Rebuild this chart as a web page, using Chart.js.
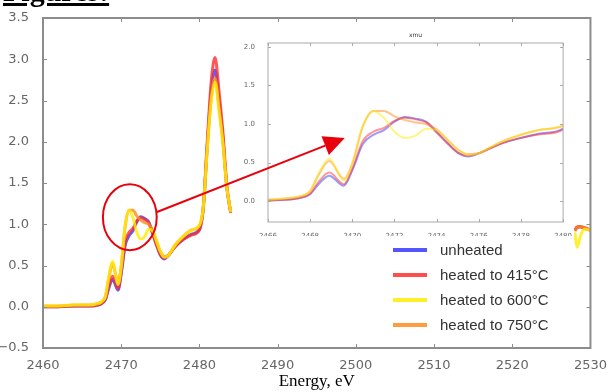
<!DOCTYPE html>
<html>
<head>
<meta charset="utf-8">
<script src="https://cdn.jsdelivr.net/npm/chart.js@4.4.1/dist/chart.umd.min.js"></script>
<style>
  body { margin: 0; background: #fff; }
  #wrap { position: relative; width: 609px; height: 392px; overflow: hidden; background: #fff; }
  #mainChart { position: absolute; left: 0; top: 0; }
  #insetChart { position: absolute; left: 240px; top: 28px; background: #fff; }
  #marks { position: absolute; left: 0; top: 0; pointer-events: none; }
  .fig-title { position: absolute; left: 3px; top: -26px; font: bold 30px "Liberation Serif", serif; text-decoration: underline; color: #000; }
  #legend { position: absolute; left: 393px; top: 237px; font: 15px "Liberation Sans", sans-serif; color: #333; }
  .row { display: flex; align-items: center; height: 25px; }
  .swatch { width: 34px; height: 4px; margin-right: 13px; }
</style>
</head>
<body>
<div id="wrap">
  <canvas id="mainChart" width="609" height="392"></canvas>
  <canvas id="insetChart" width="334" height="208"></canvas>
  <canvas id="marks" width="609" height="392"></canvas>
  <div class="fig-title">Figures:</div>
  <div id="legend"></div>
</div>
<script>
// ---------------- data ----------------
const energies = [2460, 2462, 2464, 2466, 2467, 2467.5, 2468, 2468.4, 2468.9, 2469.6,
  2470, 2470.5, 2471, 2471.5, 2472, 2472.5, 2473, 2473.5, 2474, 2474.5,
  2475, 2475.5, 2476, 2476.5, 2477, 2478, 2479, 2480, 2480.5, 2481,
  2481.5, 2482, 2482.5, 2483, 2483.5, 2484, 2506, 2528, 2528.3, 2528.7, 2529.2, 2530];

const unheated = [0.00, 0.00, 0.01, 0.01, 0.02, 0.04, 0.09, 0.22, 0.33, 0.20,
  0.40, 0.74, 0.86, 0.92, 1.03, 1.09, 1.07, 1.03, 0.90, 0.76,
  0.63, 0.58, 0.62, 0.68, 0.74, 0.82, 0.88, 0.94, 1.20, 1.95,
  2.60, 2.87, 2.50, 2.05, 1.45, 1.14, null, 0.93, 0.96, 0.97, 0.95, 0.93];

const heated415 = [0.00, 0.00, 0.01, 0.01, 0.02, 0.04, 0.10, 0.25, 0.37, 0.22,
  0.42, 0.78, 0.90, 0.95, 1.04, 1.08, 1.06, 1.02, 0.89, 0.75,
  0.63, 0.59, 0.62, 0.68, 0.74, 0.82, 0.87, 0.93, 1.22, 2.00,
  2.72, 3.02, 2.62, 2.12, 1.47, 1.14, null, 0.92, 0.97, 0.97, 0.96, 0.93];

const heated600 = [0.01, 0.01, 0.02, 0.02, 0.04, 0.06, 0.13, 0.36, 0.55, 0.27,
  0.48, 0.98, 1.17, 1.08, 0.90, 0.82, 0.85, 0.94, 0.92, 0.80,
  0.67, 0.60, 0.62, 0.69, 0.76, 0.86, 0.93, 0.99, 1.22, 1.90,
  2.48, 2.72, 2.38, 1.98, 1.45, 1.15, null, 0.90, 0.72, 0.85, 0.94, 0.93];

const heated750 = [0.01, 0.01, 0.02, 0.02, 0.04, 0.06, 0.13, 0.34, 0.52, 0.29,
  0.49, 0.97, 1.17, 1.17, 1.10, 1.05, 1.02, 1.00, 0.93, 0.80,
  0.67, 0.61, 0.62, 0.69, 0.76, 0.86, 0.93, 0.98, 1.20, 1.92,
  2.52, 2.77, 2.42, 2.00, 1.45, 1.14, null, 0.92, 0.96, 0.97, 0.96, 0.93];

const seriesNames = ['unheated', 'heated to 415°C', 'heated to 600°C', 'heated to 750°C'];
const seriesValues = [unheated, heated415, heated600, heated750];

const mainXTicks = [2460, 2470, 2480, 2490, 2500, 2510, 2520, 2530];
const mainYTicks = [-0.5, 0, 0.5, 1, 1.5, 2, 2.5, 3, 3.5];
const insetXTicks = [2466, 2468, 2470, 2472, 2474, 2476, 2478, 2480];
const insetYTicks = [0, 0.5, 1, 1.5, 2];

// zoom circle (data units of the main plot) and arrow tip (data units of the inset)
const circleCenter = [2471.1, 1.086];
const circleRadius = [3.44, 0.40];
const arrowTip = [2469.64, 0.82];

// ---------------- styling ----------------
const seriesRGB = ['55,55,255', '255,45,45', '255,236,0', '255,138,30'];
const drawOrder = [3, 2, 0, 1];   // yellow on top
const insetLeft = 240, insetTop = 28;

function makeSets(width, alpha) {
  return seriesValues.map((vals, i) => ({
    label: seriesNames[i],
    data: energies.map((e, j) => ({ x: e, y: vals[j] })),
    borderColor: `rgba(${seriesRGB[i]},${alpha})`,
    borderWidth: width,
    order: drawOrder[i],
    fill: false,
    spanGaps: false
  }));
}

const fmt = v => v.toFixed(1).replace('-', '\u2212');

// box round the plot area with small inward ticks on all four sides
const framePlugin = {
  id: 'frame',
  afterDraw(chart, args, opts) {
    const { ctx, chartArea: a, scales } = chart;
    ctx.save();
    ctx.strokeStyle = opts.color;
    ctx.lineWidth = opts.width;
    ctx.strokeRect(a.left, a.top, a.right - a.left, a.bottom - a.top);
    ctx.lineWidth = 1;
    ctx.beginPath();
    scales.x.ticks.forEach(tk => {
      const px = Math.round(scales.x.getPixelForValue(tk.value)) + 0.5;
      ctx.moveTo(px, a.bottom); ctx.lineTo(px, a.bottom - opts.tick);
      ctx.moveTo(px, a.top); ctx.lineTo(px, a.top + opts.tick);
    });
    scales.y.ticks.forEach(tk => {
      const py = Math.round(scales.y.getPixelForValue(tk.value)) + 0.5;
      ctx.moveTo(a.left, py); ctx.lineTo(a.left + opts.tick, py);
      ctx.moveTo(a.right, py); ctx.lineTo(a.right - opts.tick, py);
    });
    ctx.stroke();
    if (opts.title) {
      ctx.fillStyle = '#333';
      ctx.font = opts.titleFont;
      ctx.textAlign = 'center';
      ctx.fillText(opts.title, (a.left + a.right) / 2, a.top - 6);
    }
    ctx.restore();
  }
};

function axis(min, max, ticks, fontSize, pad, fit, format) {
  return {
    type: 'linear', min: min, max: max,
    afterBuildTicks: s => { s.ticks = ticks.map(v => ({ value: v })); },
    afterFit: fit,
    grid: { display: false },
    border: { display: false },
    ticks: {
      font: { family: 'DejaVu Sans', size: fontSize },
      color: '#666', padding: pad, maxRotation: 0, autoSkip: false,
      callback: format
    }
  };
}

// ---------------- main chart ----------------
const mainX = axis(2460, 2530, mainXTicks, 13, 2, s => { s.height = 44; }, v => String(v));
mainX.title = { display: true, text: 'Energy, eV', color: '#000',
  font: { family: 'Liberation Serif', size: 17 }, padding: { top: 0, bottom: 0 } };

const mainChart = new Chart(document.getElementById('mainChart'), {
  type: 'line',
  data: { datasets: makeSets(3, 0.8) },
  options: {
    responsive: false,
    animation: false,
    layout: { padding: { top: 18, right: 16, left: 0, bottom: 0 } },
    elements: { point: { radius: 0 }, line: { cubicInterpolationMode: 'monotone' } },
    plugins: {
      legend: { display: false },
      tooltip: { enabled: false },
      frame: { color: '#8c8c8c', width: 2, tick: 4 }
    },
    scales: {
      x: mainX,
      y: axis(-0.5, 3.5, mainYTicks, 13, 6, s => { s.width = 43; }, fmt)
    }
  },
  plugins: [framePlugin]
});

// ---------------- inset (zoom on 2466-2480 eV) ----------------
const insetChart = new Chart(document.getElementById('insetChart'), {
  type: 'line',
  data: { datasets: makeSets(2, 0.5) },
  options: {
    responsive: false,
    animation: false,
    layout: { padding: { top: 15, right: 6, left: 0, bottom: 0 } },
    elements: { point: { radius: 0 }, line: { cubicInterpolationMode: 'monotone' } },
    plugins: {
      legend: { display: false },
      tooltip: { enabled: false },
      frame: { color: '#aaa', width: 1, tick: 3, title: 'xmu', titleFont: '6px "DejaVu Sans"' }
    },
    scales: {
      x: axis(2466, 2480, insetXTicks, 7, 2, s => { s.height = 14; }, v => String(v)),
      y: axis(-0.27, 2.05, insetYTicks, 7, 5, s => { s.width = 28; }, v => v.toFixed(1))
    }
  },
  plugins: [framePlugin]
});

// ---------------- legend ----------------
const legend = document.getElementById('legend');
seriesNames.forEach((name, i) => {
  const row = document.createElement('div');
  row.className = 'row';
  row.innerHTML = `<span class="swatch" style="background:rgba(${seriesRGB[i]},0.85)"></span><span>${name}</span>`;
  legend.appendChild(row);
});

// ---------------- circle + arrow ----------------
const mctx = document.getElementById('marks').getContext('2d');
const mx = mainChart.scales.x, my = mainChart.scales.y;
const cx = mx.getPixelForValue(circleCenter[0]);
const cy = my.getPixelForValue(circleCenter[1]);
const rx = mx.getPixelForValue(circleCenter[0] + circleRadius[0]) - cx;
const ry = cy - my.getPixelForValue(circleCenter[1] + circleRadius[1]);

mctx.strokeStyle = '#e8000b';
mctx.fillStyle = '#e8000b';
mctx.lineWidth = 2;
mctx.beginPath();
mctx.ellipse(cx, cy, rx, ry, 0, 0, Math.PI * 2);
mctx.stroke();

const sx = cx + rx * Math.cos(-0.15), sy = cy + ry * Math.sin(-0.15);
const tx = insetLeft + insetChart.scales.x.getPixelForValue(arrowTip[0]);
const ty = insetTop + insetChart.scales.y.getPixelForValue(arrowTip[1]);
const ang = Math.atan2(ty - sy, tx - sx);
const headLen = 21, headHalf = 10;
const bx = tx - headLen * Math.cos(ang), by = ty - headLen * Math.sin(ang);
mctx.beginPath();
mctx.moveTo(sx, sy);
mctx.lineTo(bx, by);
mctx.stroke();
mctx.beginPath();
mctx.moveTo(tx, ty);
mctx.lineTo(bx + headHalf * Math.sin(ang), by - headHalf * Math.cos(ang));
mctx.lineTo(bx - headHalf * Math.sin(ang), by + headHalf * Math.cos(ang));
mctx.closePath();
mctx.fill();
</script>
</body>
</html>
